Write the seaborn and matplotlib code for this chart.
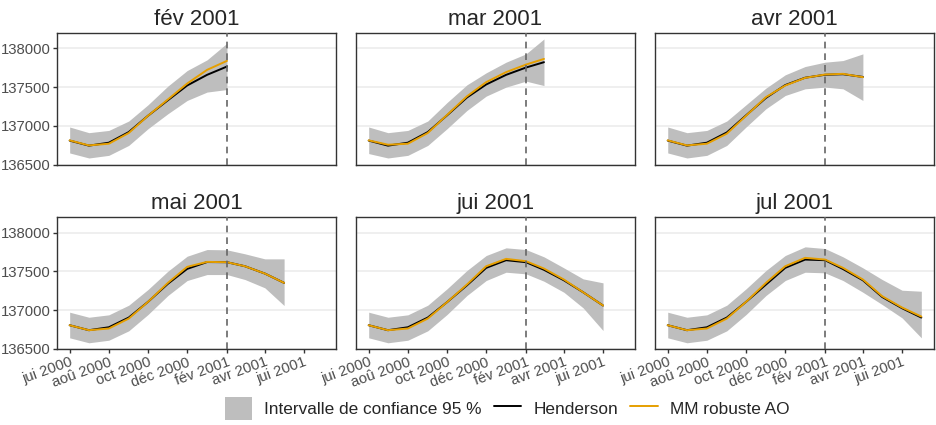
import numpy as np
import pandas as pd
import seaborn as sns
import matplotlib.pyplot as plt
import matplotlib.dates as mdates
from matplotlib.patches import Patch
from matplotlib.lines import Line2D

# %% data (monthly values, first month = juin 2000)
start = '2000-06-01'
titles = ['fév 2001', 'mar 2001', 'avr 2001', 'mai 2001', 'jui 2001', 'jul 2001']

hend_fev = [136810, 136745, 136783, 136920, 137130, 137330, 137520, 137657, 137764]
mm_fev = [136813, 136748, 136770, 136908, 137130, 137340, 137545, 137721, 137837]
low_fev = [136651, 136586, 136620, 136748, 136963, 137156, 137327, 137435, 137468]
up_fev = [136985, 136912, 136941, 137062, 137271, 137512, 137712, 137850, 138064]

hend_mar = [136810, 136745, 136783, 136920, 137135, 137365, 137533, 137657, 137751, 137820]
mm_mar = [136813, 136757, 136770, 136908, 137140, 137380, 137563, 137692, 137789, 137862]
low_mar = [136643, 136586, 136620, 136748, 136963, 137198, 137383, 137499, 137576, 137519]
up_mar = [136985, 136912, 136941, 137062, 137300, 137528, 137683, 137820, 137927, 138119]

hend_avr = [136810, 136745, 136783, 136915, 137135, 137360, 137525, 137620, 137658, 137665, 137630]
mm_avr = [136813, 136748, 136770, 136899, 137130, 137370, 137519, 137618, 137661, 137670, 137627]
low_avr = [136651, 136586, 136620, 136748, 136985, 137220, 137391, 137477, 137499, 137477, 137327]
up_avr = [136985, 136912, 136941, 137062, 137271, 137486, 137657, 137764, 137820, 137841, 137927]

hend_mai = [136806, 136742, 136780, 136905, 137107, 137340, 137532, 137620, 137618, 137566, 137472, 137352]
mm_mai = [136806, 136742, 136764, 136892, 137107, 137352, 137558, 137622, 137618, 137566, 137472, 137352]
low_mai = [136644, 136580, 136613, 136734, 136944, 137189, 137382, 137459, 137459, 137395, 137288, 137060]
up_mai = [136974, 136909, 136940, 137064, 137266, 137502, 137695, 137781, 137777, 137726, 137661, 137661]

hend_jui = [136806, 136742, 136780, 136905, 137103, 137320, 137545, 137644, 137618, 137520, 137385, 137231, 137060]
mm_jui = [136806, 136742, 136764, 136892, 137103, 137330, 137566, 137661, 137631, 137536, 137395, 137231, 137060]
low_jui = [136644, 136580, 136613, 136734, 136944, 137189, 137382, 137489, 137468, 137373, 137231, 137030, 136738]
up_jui = [136974, 136909, 136940, 137064, 137275, 137511, 137704, 137803, 137781, 137687, 137545, 137403, 137352]

hend_jul = [136806, 136742, 136780, 136905, 137107, 137330, 137545, 137652, 137644, 137530, 137385, 137170, 137025, 136905]
mm_jul = [136806, 136742, 136764, 136892, 137107, 137352, 137566, 137674, 137652, 137545, 137395, 137180, 137034, 136918]
low_jul = [136644, 136580, 136613, 136734, 136944, 137189, 137382, 137489, 137481, 137382, 137231, 137073, 136901, 136644]
up_jul = [136974, 136909, 136940, 137064, 137275, 137511, 137704, 137816, 137794, 137687, 137545, 137395, 137257, 137244]

hend_all = [hend_fev, hend_mar, hend_avr, hend_mai, hend_jui, hend_jul]
mm_all = [mm_fev, mm_mar, mm_avr, mm_mai, mm_jui, mm_jul]
low_all = [low_fev, low_mar, low_avr, low_mai, low_jui, low_jul]
up_all = [up_fev, up_mar, up_avr, up_mai, up_jui, up_jul]

mois = {1: 'jan', 2: 'fév', 3: 'mar', 4: 'avr', 5: 'mai', 6: 'jui',
        7: 'jul', 8: 'aoû', 9: 'sep', 10: 'oct', 11: 'nov', 12: 'déc'}

# %% style
sns.set_style('white')
plt.rcParams['font.family'] = ['Liberation Sans', 'DejaVu Sans']

ribbon_col = '#BEBEBE'
palette = {'Henderson': 'black', 'MM robuste AO': '#E69F00'}

fig, axes = plt.subplots(2, 3, figsize=(9.37, 4.25), dpi=100, sharex=True, sharey=True)
plt.subplots_adjust(left=57 / 937, right=934 / 937, top=1 - 33 / 425, bottom=1 - 349 / 425,
                    wspace=0.072, hspace=0.40)

ymin = min(min(l) for l in low_all)
ymax = max(max(u) for u in up_all)
pad = (ymax - ymin) * 0.05
x0 = pd.Timestamp(start)
x1 = x0 + pd.DateOffset(months=13)
xpad = (x1 - x0) * 0.05

for i, ax in enumerate(axes.flat):
    n = len(hend_all[i])
    dates = pd.date_range(start, periods=n, freq='MS')
    ax.fill_between(dates, low_all[i], up_all[i], color=ribbon_col, linewidth=0, zorder=1)
    df = pd.DataFrame({
        'date': np.concatenate([dates, dates]),
        'value': hend_all[i] + mm_all[i],
        'series': ['Henderson'] * n + ['MM robuste AO'] * n,
    })
    sns.lineplot(data=df, x='date', y='value', hue='series', palette=palette,
                 linewidth=1.4, legend=False, ax=ax, zorder=3)
    ax.axvline(pd.Timestamp('2001-02-01'), color='#666666', linestyle=(0, (4, 3)),
               linewidth=1.2, zorder=4)
    ax.set_title(titles[i], fontsize=16, pad=6)
    ax.set_xlabel('')
    ax.set_ylabel('')
    ax.set_ylim(ymin - pad, ymax + pad)
    ax.set_xlim(x0 - xpad, x1 + xpad)
    ax.set_yticks([136500, 137000, 137500, 138000])
    ax.grid(axis='y', color='#EBEBEB', linewidth=1.1)
    ax.set_axisbelow(True)
    for s in ax.spines.values():
        s.set_color('#333333')
        s.set_linewidth(1.0)
    ax.tick_params(axis='both', length=3, width=1, color='#333333',
                   labelsize=10.7, labelcolor='#4D4D4D', pad=1.5)
    ax.tick_params(axis='x', bottom=(i >= 3))
    ax.tick_params(axis='y', left=(i % 3 == 0))

ax = axes[1, 0]
ax.xaxis.set_major_locator(mdates.MonthLocator(bymonth=[2, 4, 6, 8, 10, 12]))
ax.xaxis.set_major_formatter(plt.FuncFormatter(
    lambda v, p: f"{mois[mdates.num2date(v).month]} {mdates.num2date(v).year}"))
for a in axes[1]:
    for lab in a.get_xticklabels():
        lab.set_rotation(20)
        lab.set_ha('right')
        lab.set_va('top')
        lab.set_rotation_mode('anchor')

handles = [Patch(facecolor=ribbon_col, edgecolor='none'),
           Line2D([], [], color='black', linewidth=1.4),
           Line2D([], [], color='#E69F00', linewidth=1.4)]
labels = ['Intervalle de confiance 95 %', 'Henderson', 'MM robuste AO']
fig.legend(handles, labels, loc='center', bbox_to_anchor=(0.541, 0.038), ncol=3,
           frameon=False, fontsize=12.4, handlelength=1.6, handleheight=1.7,
           columnspacing=0.7, handletextpad=0.7)

fig.savefig('out.png', dpi=100)
